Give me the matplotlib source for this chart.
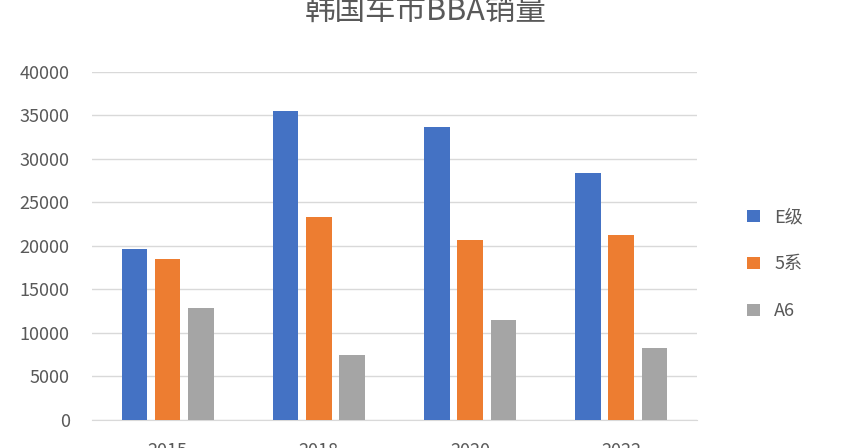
import matplotlib.pyplot as plt
import numpy as np

plt.rcParams['font.family'] = ['Noto Sans CJK SC', 'DejaVu Sans']

years = ['2015', '2018', '2020', '2022']
e_class = [19650, 35500, 33680, 28390]
bmw5 = [18500, 23330, 20690, 21260]
audi_a6 = [12870, 7470, 11490, 8280]
series = [('E级', e_class, '#4472c4'), ('5系', bmw5, '#ed7d31'), ('A6', audi_a6, '#a5a5a5')]

fig = plt.figure(figsize=(8.52, 4.48), dpi=100)
ax = fig.add_axes([0.108, 0.0625, 0.71, 0.777])

x = np.arange(len(years))
w = 0.17
for i, (name, vals, col) in enumerate(series):
    ax.bar(x + (i - 1) * 0.22, vals, w, color=col, label=name, zorder=3)

ax.set_xlim(-0.5, 3.5)
ax.set_ylim(0, 40000)
ax.set_yticks(range(0, 40001, 5000))
ax.set_xticks(x, years)
ax.grid(axis='y', color='#d9d9d9', lw=1, zorder=0)
for s in ['top', 'right', 'left']:
    ax.spines[s].set_visible(False)
ax.spines['bottom'].set_color('#d9d9d9')
ax.tick_params(length=0, labelsize=13, colors='#595959')
ax.tick_params(axis='y', pad=16)
ax.tick_params(axis='x', pad=16)

# title is partly cut off at the top, as in the source image
fig.text(0.5, 0.975, '韩国车市BBA销量', ha='center', va='center', fontsize=22, color='#595959')
ax.legend(loc='center left', bbox_to_anchor=(0.858, 0.41), bbox_transform=fig.transFigure,
          frameon=False, fontsize=13, labelspacing=1.6, handlelength=0.7, handleheight=0.7,
          labelcolor='#595959')

fig.savefig('out.png', dpi=100)
